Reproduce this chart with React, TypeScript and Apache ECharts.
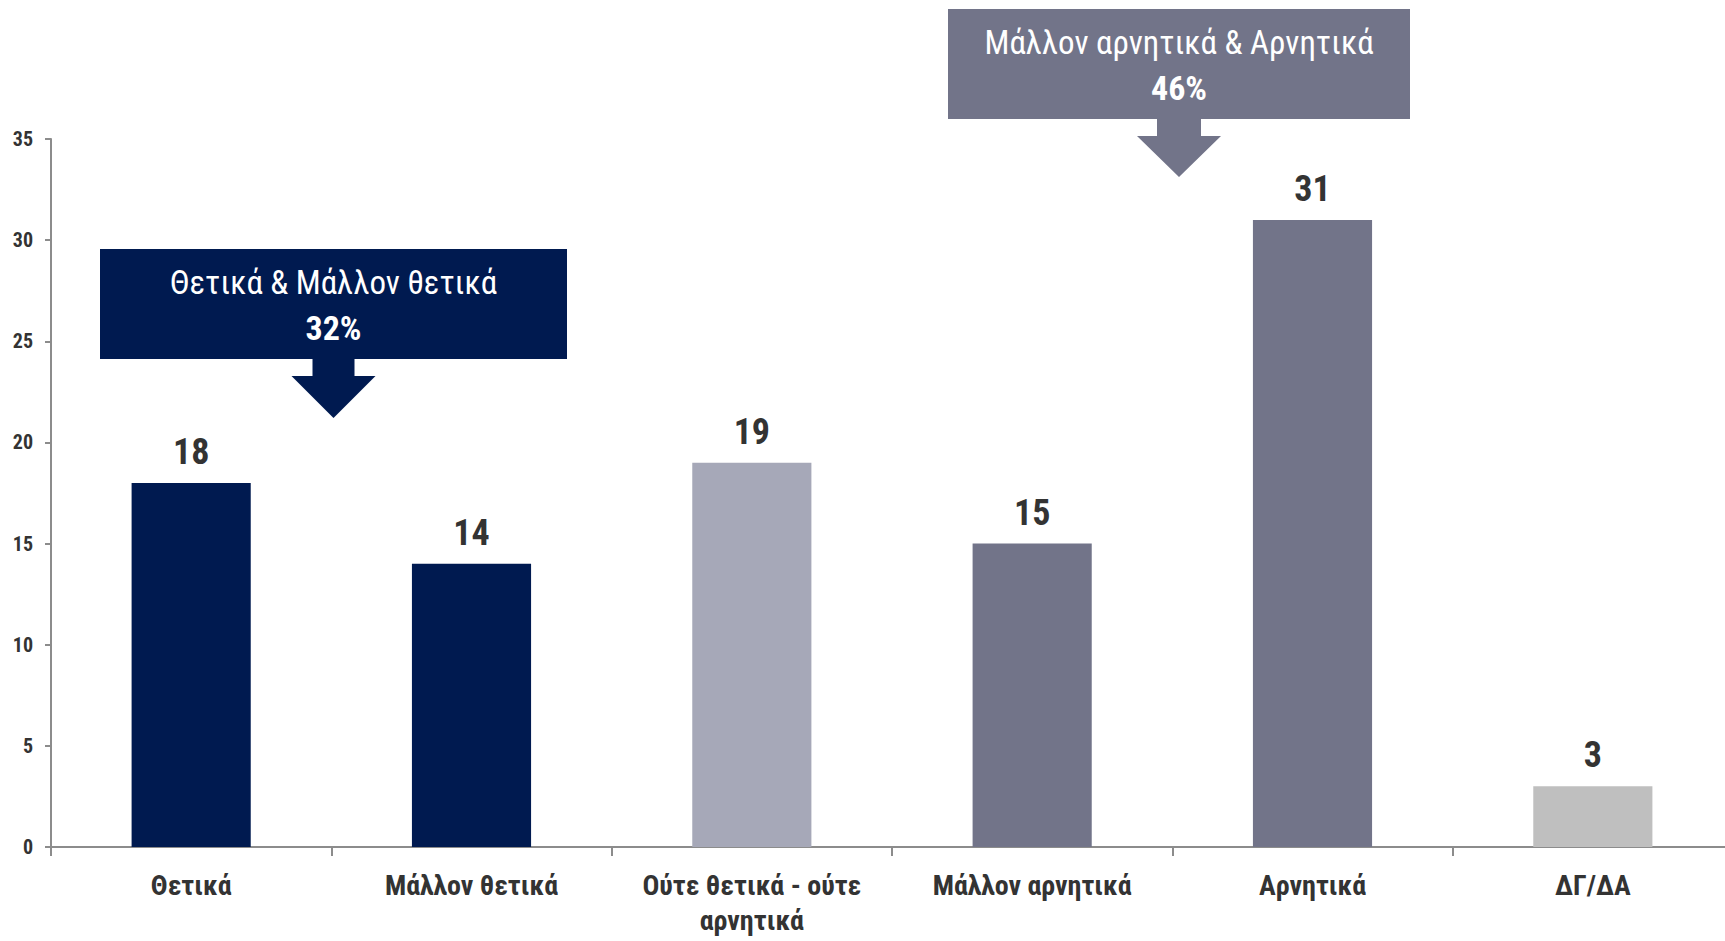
import React, { useEffect, useRef } from "react";
import * as echarts from "echarts";

const categories = ["Θετικά", "Μάλλον θετικά", "Ούτε θετικά - ούτε\nαρνητικά", "Μάλλον αρνητικά", "Αρνητικά", "ΔΓ/ΔΑ"];
const values = [18, 14, 19, 15, 31, 3];
const barColors = ["#001a50", "#001a50", "#a6a8b8", "#727489", "#727489", "#bfbfbf"];
const yTicks = [0, 5, 10, 15, 20, 25, 30, 35];
const groupTitles = ["Θετικά & Μάλλον θετικά", "Μάλλον αρνητικά & Αρνητικά"];
const groupValues = ["32%", "46%"];
const groupColors = ["#001a50", "#727489"];

const FONT = "'Liberation Sans Narrow', 'Arial Narrow', 'Roboto Condensed', 'DejaVu Sans Condensed', sans-serif";

function callout(i: number, box: { x: number; y: number; w: number; h: number }, arrow: { stemW: number; stemH: number; headW: number; headH: number }) {
  const cx = box.x + box.w / 2;
  const by = box.y + box.h;
  const pts = [
    [cx - arrow.stemW / 2, by - 1],
    [cx + arrow.stemW / 2, by - 1],
    [cx + arrow.stemW / 2, by + arrow.stemH],
    [cx + arrow.headW / 2, by + arrow.stemH],
    [cx, by + arrow.stemH + arrow.headH],
    [cx - arrow.headW / 2, by + arrow.stemH],
    [cx - arrow.stemW / 2, by + arrow.stemH],
  ];
  return [
    { type: "rect", shape: { x: box.x, y: box.y, width: box.w, height: box.h }, style: { fill: groupColors[i] } },
    { type: "polygon", shape: { points: pts }, style: { fill: groupColors[i] } },
    {
      type: "text",
      x: cx,
      y: box.y + 33,
      style: { text: groupTitles[i], fill: "#ffffff", font: `normal 33px ${FONT}`, align: "center", verticalAlign: "middle" },
    },
    {
      type: "text",
      x: cx,
      y: box.y + 79,
      style: {
        text: groupValues[i],
        fill: "#ffffff",
        font: `bold 34px ${FONT}`,
        align: "center",
        verticalAlign: "middle",
        shadowColor: "rgba(0,0,0,0.6)",
        shadowBlur: 3,
        shadowOffsetX: 2,
        shadowOffsetY: 2,
      },
    },
  ];
}

export default function App() {
  const ref = useRef<HTMLDivElement>(null);
  useEffect(() => {
    if (!ref.current) return;
    const chart = echarts.init(ref.current, undefined, { renderer: "svg" });
    chart.setOption({
      animation: false,
      backgroundColor: "#ffffff",
      grid: { left: 51, right: 0, top: 139, bottom: 94, containLabel: false },
      xAxis: {
        type: "category",
        data: categories,
        axisLine: { lineStyle: { color: "#8c8c8c", width: 2 } },
        axisTick: { show: true, alignWithLabel: false, length: 9, lineStyle: { color: "#8c8c8c", width: 2 } },
        axisLabel: {
          color: "#333333",
          fontFamily: FONT,
          fontWeight: "bold",
          fontSize: 28,
          lineHeight: 35,
          margin: 21,
          interval: 0,
        },
      },
      yAxis: {
        type: "value",
        min: yTicks[0],
        max: yTicks[yTicks.length - 1],
        interval: 5,
        splitLine: { show: false },
        axisLine: { show: true, lineStyle: { color: "#8c8c8c", width: 2 } },
        axisTick: { show: true, length: 6, lineStyle: { color: "#8c8c8c", width: 2 } },
        axisLabel: {
          color: "#333333",
          fontFamily: FONT,
          fontWeight: "bold",
          fontSize: 20,
          margin: 18,
        },
      },
      series: [
        {
          type: "bar",
          barWidth: "42.5%",
          data: values.map((v, i) => ({ value: v, itemStyle: { color: barColors[i] } })),
          label: {
            show: true,
            position: "top",
            distance: 13,
            color: "#333333",
            fontFamily: FONT,
            fontWeight: "bold",
            fontSize: 36,
          },
        },
      ],
      graphic: [
        ...callout(0, { x: 100, y: 249, w: 467, h: 110 }, { stemW: 42, stemH: 17, headW: 84, headH: 42 }),
        ...callout(1, { x: 948, y: 9, w: 462, h: 110 }, { stemW: 44, stemH: 17, headW: 84, headH: 41 }),
      ],
    });
    return () => chart.dispose();
  }, []);
  return (
    <div style={{ position: "fixed", left: 0, top: 0, width: 1725, height: 941, overflow: "hidden" }}>
      <div ref={ref} style={{ width: 1733, height: 941 }} />
    </div>
  );
}
